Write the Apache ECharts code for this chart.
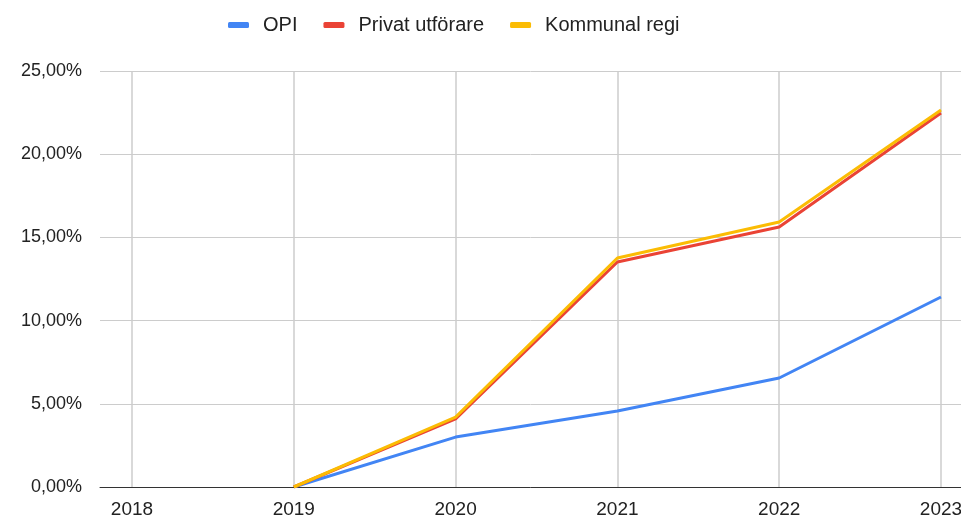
<!DOCTYPE html>
<html>
<head>
<meta charset="utf-8">
<script src="https://cdn.jsdelivr.net/npm/echarts@6/dist/echarts.min.js"></script>
<style>
  html, body { margin: 0; padding: 0; background: #fff; }
  #chart { width: 961px; height: 518px; }
</style>
</head>
<body>
<div id="chart"></div>
<script>
const years = ['2018', '2019', '2020', '2021', '2022', '2023'];
const opi = [null, 0, 3.0, 4.57, 6.55, 11.42];
const privat = [null, 0, 4.09, 13.52, 15.62, 22.48];
const kommunal = [null, 0, 4.2, 13.76, 15.93, 22.66];
const yTicks = [0, 5, 10, 15, 20, 25];

const font = "'Liberation Sans', Arial, sans-serif";
const pct = v => v.toFixed(2).replace('.', ',') + '%';

const chart = echarts.init(document.getElementById('chart'));

const option = {
  animation: false,
  textStyle: { fontFamily: font },
  legend: {
    top: 10,
    left: 223,
    icon: 'roundRect',
    itemWidth: 21,
    itemHeight: 6,
    itemGap: 26,
    textStyle: { fontSize: 20, color: '#222', fontFamily: font, padding: [0, 0, 0, 9] },
    data: ['OPI', 'Privat utförare', 'Kommunal regi']
  },
  grid: [
    // full plot area: horizontal gridlines + y labels
    { left: 100, right: 0, top: 71, bottom: 31, outerBoundsMode: 'none' },
    // data area: categories sit on the vertical gridlines
    { left: 132, right: 20, top: 71, bottom: 31, outerBoundsMode: 'none' }
  ],
  xAxis: [
    {
      gridIndex: 0, type: 'value', min: 0, max: 1,
      axisLine: { show: true, onZero: false, lineStyle: { color: '#333', width: 1 } },
      axisTick: { show: false }, axisLabel: { show: false }, splitLine: { show: false }
    },
    {
      gridIndex: 1, type: 'category', data: years, boundaryGap: false,
      axisLine: { show: false }, axisTick: { show: false },
      axisLabel: { color: '#222', fontSize: 19, margin: 13, fontFamily: font },
      splitLine: { show: true, lineStyle: { color: '#ccc', width: 1.5 } }
    }
  ],
  yAxis: [
    {
      gridIndex: 0, type: 'value', min: 0, max: 25, interval: 5,
      axisLine: { show: false }, axisTick: { show: false },
      axisLabel: {
        color: '#222', fontSize: 18, margin: 18, fontFamily: font,
        formatter: v => yTicks.includes(v) ? pct(v) : ''
      },
      splitLine: { show: true, lineStyle: { color: '#ccc', width: 1 } }
    },
    {
      gridIndex: 1, type: 'value', min: 0, max: 25, interval: 5,
      axisLine: { show: false }, axisTick: { show: false },
      axisLabel: { show: false }, splitLine: { show: false }
    }
  ],
  series: [
    { name: 'OPI', data: opi, color: '#4285F4' },
    { name: 'Privat utförare', data: privat, color: '#EA4335' },
    { name: 'Kommunal regi', data: kommunal, color: '#FBBC04' }
  ].map(s => ({
    name: s.name,
    type: 'line',
    xAxisIndex: 1,
    yAxisIndex: 1,
    data: s.data,
    showSymbol: false,
    symbol: 'none',
    itemStyle: { color: s.color },
    lineStyle: { color: s.color, width: 3 }
  }))
};

chart.setOption(option);
</script>
</body>
</html>
